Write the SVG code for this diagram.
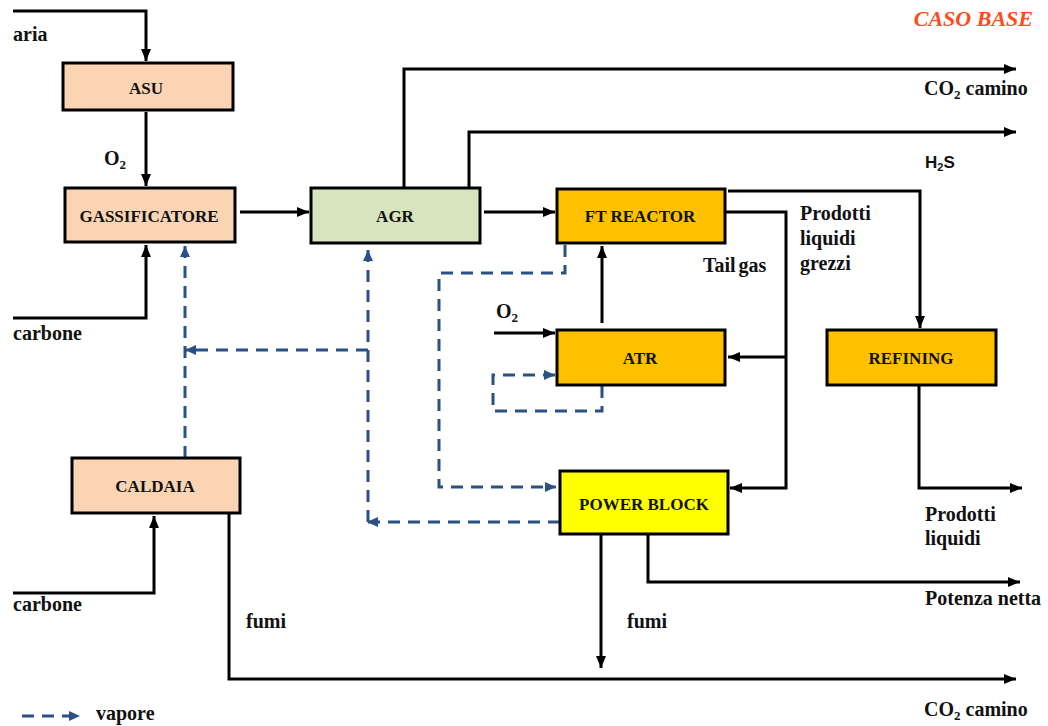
<svg xmlns="http://www.w3.org/2000/svg" width="1048" height="726" viewBox="0 0 1048 726">
<style>
.box{stroke:#000;stroke-width:3}
.peach{fill:#FBD4B4}
.green{fill:#D7E4BD}
.orange{fill:#FFC000}
.yellow{fill:#FFFF00}
.bl{font-family:"Liberation Serif","Times New Roman",serif;font-weight:bold;font-size:17px;fill:#111;text-anchor:middle}
.lb{font-family:"Liberation Serif","Times New Roman",serif;font-weight:bold;font-size:20px;fill:#111}
.sub{font-size:13px}
.ln{fill:none;stroke:#000;stroke-width:3;marker-end:url(#ah)}
.ln0{fill:none;stroke:#000;stroke-width:3}
.ds{fill:none;stroke:#2A5185;stroke-width:3;stroke-dasharray:12 8;marker-end:url(#bh)}
</style>
<defs>
<marker id="ah" markerUnits="userSpaceOnUse" markerWidth="12" markerHeight="10" refX="12" refY="5" orient="auto"><path d="M0,0 L12,5 L0,10 z" fill="#000"/></marker>
<marker id="bh" markerUnits="userSpaceOnUse" markerWidth="11" markerHeight="10" refX="11" refY="5" orient="auto"><path d="M0,0 L11,5 L0,10 z" fill="#2A5185"/></marker>
</defs>
<rect width="1048" height="726" fill="#fff"/>
<g id="connectors">
<path class="ln" d="M13,11 H146 V61"/>
<path class="ln" d="M146,112 V186"/>
<path class="ln" d="M240,212 H309"/>
<path class="ln" d="M13,318 H146 V245"/>
<path class="ln" d="M404,188 V69 H1016"/>
<path class="ln" d="M469,188 V132 H1016"/>
<path class="ln" d="M484,212 H555"/>
<path class="ln" d="M728,191 H920 V328"/>
<path class="ln" d="M726,212 H786 V488 H730"/>
<path class="ln" d="M786,357 H728"/>
<path class="ln" d="M602,323 V246"/>
<path class="ln" d="M494,333 H555"/>
<path class="ln" d="M919,386 V488 H1022"/>
<path class="ln" d="M648,534 V582 H1020"/>
<path class="ln" d="M601,534 V668"/>
<path class="ln" d="M229,513 V679 H1016"/>
<path class="ln" d="M13,593 H154 V516"/>
<path class="ds" d="M565,245 V273 H439 V487 H556"/>
<path class="ds" d="M602,386 V411 H493 V375 H555"/>
<path class="ds" d="M560,522 H367"/>
<path class="ds" d="M368,522 V250"/>
<path class="ds" d="M368,350 H185"/>
<path class="ds" d="M185,458 V246"/>
<path class="ds" d="M22,716 H80"/>
</g>
<g id="asu"><rect class="box peach" x="63" y="63" width="170" height="47"/><text class="bl" x="146" y="94">ASU</text></g>
<g id="gassificatore"><rect class="box peach" x="65" y="188" width="170" height="54"/><text class="bl" x="149" y="222">GASSIFICATORE</text></g>
<g id="agr"><rect class="box green" x="311" y="188" width="169" height="55"/><text class="bl" x="395" y="222">AGR</text></g>
<g id="ft"><rect class="box orange" x="557" y="189" width="168" height="54"/><text class="bl" x="640" y="222">FT REACTOR</text></g>
<g id="atr"><rect class="box orange" x="557" y="330" width="168" height="55"/><text class="bl" x="640" y="364">ATR</text></g>
<g id="refining"><rect class="box orange" x="827" y="330" width="169" height="55"/><text class="bl" x="911" y="364">REFINING</text></g>
<g id="powerblock"><rect class="box yellow" x="560" y="471" width="168" height="63"/><text class="bl" x="644" y="510">POWER BLOCK</text></g>
<g id="caldaia"><rect class="box peach" x="72" y="458" width="168" height="55"/><text class="bl" x="155" y="492">CALDAIA</text></g>
<g id="labels">
<text x="1033" y="26" text-anchor="end" style="font-family:'Liberation Serif','Times New Roman',serif;font-weight:bold;font-style:italic;font-size:22px;fill:#FF4A1C">CASO BASE</text>
<text class="lb" x="13" y="41">aria</text>
<text class="lb" x="104" y="165">O<tspan class="sub" dy="4">2</tspan></text>
<text class="lb" x="13" y="340">carbone</text>
<text class="lb" x="13" y="611">carbone</text>
<text class="lb" x="246" y="628">fumi</text>
<text class="lb" x="627" y="628">fumi</text>
<text class="lb" x="96" y="720">vapore</text>
<text class="lb" x="924" y="95">CO<tspan class="sub" dy="4">2</tspan><tspan dy="-4"> camino</tspan></text>
<text x="925" y="168" style="font-family:'Liberation Sans',Arial,sans-serif;font-weight:bold;font-size:17px;fill:#111">H<tspan font-size="11" dy="3">2</tspan><tspan dy="-3">S</tspan></text>
<text class="lb" x="924" y="716">CO<tspan class="sub" dy="4">2</tspan><tspan dy="-4"> camino</tspan></text>
<text class="lb" x="703" y="272" word-spacing="-2">Tail gas</text>
<text class="lb" x="800" y="220">Prodotti</text>
<text class="lb" x="800" y="245">liquidi</text>
<text class="lb" x="800" y="270">grezzi</text>
<text class="lb" x="496" y="318">O<tspan class="sub" dy="4">2</tspan></text>
<text class="lb" x="925" y="521">Prodotti</text>
<text class="lb" x="925" y="545">liquidi</text>
<text class="lb" x="925" y="605">Potenza netta</text>
</g>
</svg>
